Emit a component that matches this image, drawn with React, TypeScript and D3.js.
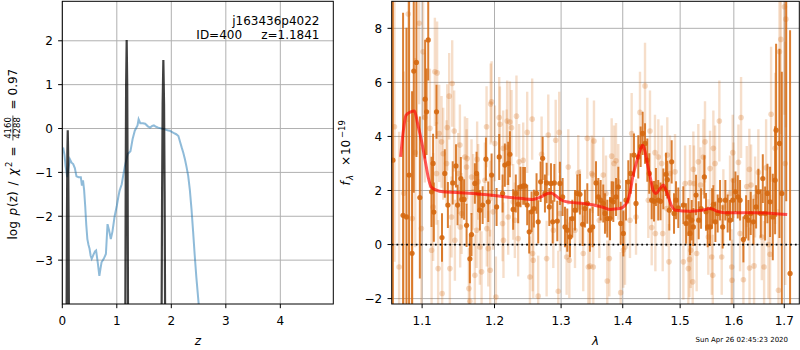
import React, { useEffect, useRef } from 'react'
import * as d3 from 'd3'

// ---- left panel: log p(z) ----
const pzCurve: [number, number][] = [
	[0.0, -0.5], [0.02, -0.47], [0.04, -0.6], [0.06, -0.85], [0.09, -1.11], [0.12, -0.85], [0.14, -0.7],
	[0.17, -0.78], [0.2, -0.81], [0.23, -0.9], [0.26, -1.09], [0.3, -1.11], [0.34, -1.11], [0.36, -1.3],
	[0.38, -1.18], [0.4, -1.4], [0.42, -1.76], [0.44, -2.2], [0.46, -2.52], [0.48, -2.65], [0.5, -2.74],
	[0.52, -2.9], [0.54, -2.97], [0.57, -2.88], [0.6, -2.8], [0.62, -2.78], [0.65, -3.05], [0.68, -3.36],
	[0.7, -3.2], [0.72, -3.05], [0.76, -2.97], [0.8, -2.86], [0.83, -2.18], [0.86, -2.33], [0.89, -2.52],
	[0.92, -2.35], [0.96, -2.0], [1.0, -1.76], [1.03, -1.55], [1.05, -1.42], [1.09, -1.27], [1.12, -1.05],
	[1.15, -0.85], [1.2, -0.58], [1.25, -0.52], [1.29, -0.24], [1.33, -0.05], [1.38, 0.07], [1.4, 0.21],
	[1.43, 0.12], [1.48, 0.12], [1.52, 0.11], [1.57, 0.05], [1.61, 0.02], [1.65, 0.06], [1.68, 0.07],
	[1.72, 0.04], [1.76, 0.02], [1.82, 0.0], [1.88, -0.02], [1.93, -0.04], [1.97, -0.05], [2.04, -0.1],
	[2.09, -0.13], [2.13, -0.17], [2.16, -0.3], [2.19, -0.43], [2.22, -0.55], [2.25, -0.7], [2.28, -0.88],
	[2.31, -1.08], [2.34, -1.4], [2.37, -1.83], [2.4, -2.35], [2.43, -2.9], [2.46, -3.4], [2.5, -3.97],
	[2.53, -4.5]
]
const pzPeakLow: [number, number][] = [
	[0.077, -4.84], [0.085, -2.04], [0.093, -0.54], [0.1, -0.04], [0.107, -0.54], [0.115, -2.04], [0.123, -4.84]
]
const pzPeakMain: [number, number][] = [
	[1.155, -4.78], [1.164, -0.98], [1.171, 1.02], [1.181, 2.02], [1.191, 1.02], [1.198, -0.98], [1.207, -4.78]
]
const pzPeakHigh: [number, number][] = [
	[1.82, -4.84], [1.831, -1.44], [1.841, 0.56], [1.854, 1.56], [1.867, 0.56], [1.877, -1.44], [1.888, -4.84]
]
const zTicks = [0, 1, 2, 3, 4]
const logpTicks = [-3, -2, -1, 0, 1, 2]

// ---- right panel: spectrum [lambda, flux, err] ----
const specRaw: [number, number, number][] = [
	[1.064, 4.36, 5.0], [1.07, -0.83, 5.0], [1.076, 1.9, 4.5], [1.0818, 8.53, 4.0], [1.087, 0.96, 4.0],
	[1.091, 3.4, 3.5], [1.0961, 8.19, 3.0], [1.099, 0.59, 3.0], [1.1013, 7.13, 2.5], [1.1036, 4.7, 2.4],
	[1.1103, 4.3, 2.2], [1.1126, -0.21, 2.2], [1.1147, 1.39, 2.0], [1.117, 6.39, 2.0], [1.1192, 2.63, 1.9],
	[1.12, 6.35, 1.9], [1.1214, -0.89, 1.8], [1.1228, 4.11, 1.8], [1.126, 3.8, 1.7], [1.1268, -1.81, 1.7],
	[1.1282, 3.36, 1.7], [1.1328, 3.0, 1.6], [1.1337, 4.33, 1.6], [1.1364, 5.49, 1.6], [1.1373, -0.89, 1.6],
	[1.1396, 1.02, 1.5], [1.1405, 5.96, 1.6], [1.1432, 4.2, 1.5], [1.1442, 0.16, 1.5], [1.1488, 2.63, 1.5],
	[1.1511, 3.68, 1.5], [1.1515, 0.65, 1.5], [1.1535, 1.15, 1.5], [1.158, 3.24, 1.5], [1.1604, 2.87, 1.4],
	[1.1612, 3.18, 1.5], [1.1636, -1.63, 1.5], [1.165, -2.1, 1.5], [1.1673, 2.5, 1.4], [1.1696, 1.95, 1.4],
	[1.172, -1.14, 1.5], [1.1744, 0.53, 1.4], [1.1752, 3.15, 1.4], [1.1767, 2.32, 1.4], [1.1791, -0.09, 1.4],
	[1.1815, -1.01, 1.5], [1.1862, 2.38, 1.4], [1.1886, 4.36, 1.5], [1.189, 0.59, 1.4], [1.191, -0.15, 1.4],
	[1.1934, 1.7, 1.4], [1.1938, -0.95, 1.5], [1.1945, 5.2, 1.5], [1.1958, 5.28, 1.5], [1.1981, 1.21, 1.4],
	[1.2005, 3.74, 1.4], [1.202, -1.94, 1.5], [1.2068, 4.7, 1.5], [1.2078, 4.45, 1.4], [1.2117, 0.78, 1.4],
	[1.2126, 3.56, 1.4], [1.213, 0.16, 1.4], [1.2176, 3.6, 1.4], [1.2184, 4.57, 1.5], [1.2199, 1.02, 1.4],
	[1.2224, 4.53, 1.5], [1.2248, 4.32, 1.4], [1.2272, 1.58, 1.4], [1.2297, 0.9, 1.4], [1.2321, 4.75, 1.5],
	[1.2346, 0.22, 1.4], [1.2361, 3.06, 1.4], [1.2421, 3.12, 1.4], [1.2481, 4.15, 1.5], [1.2522, -1.2, 1.5],
	[1.2556, 4.64, 1.5], [1.2562, -0.33, 1.4], [1.2572, -0.58, 1.4], [1.2647, -1.91, 1.5], [1.2699, 3.34, 1.4],
	[1.2776, -0.52, 1.4], [1.2801, 4.05, 1.5], [1.2879, 0.53, 1.4], [1.2916, 3.86, 1.5], [1.2956, -1.73, 1.5],
	[1.2971, 4.15, 1.5], [1.2982, 1.15, 1.4], [1.3087, -0.46, 1.4], [1.3113, 2.87, 1.4], [1.3129, -0.58, 1.4],
	[1.3219, 0.53, 1.4], [1.3271, 2.65, 1.4], [1.3298, 1.39, 1.4], [1.3351, -0.33, 1.4], [1.3416, 3.93, 1.5],
	[1.3432, -0.83, 1.4], [1.3459, -0.8, 1.4], [1.3487, 2.63, 1.4], [1.3503, 2.57, 1.4], [1.3513, -0.83, 1.4],
	[1.3524, 3.83, 1.5], [1.3611, 0.9, 1.4], [1.3676, 2.57, 1.4], [1.3721, 1.89, 1.4], [1.3742, -1.35, 1.5],
	[1.3776, -0.52, 1.4], [1.3815, 3.27, 1.4], [1.3854, 3.0, 1.4], [1.3887, 3.1, 1.4], [1.3926, 2.32, 1.4],
	[1.3966, -1.78, 1.5], [1.401, -0.2, 1.4], [1.4038, -0.09, 1.4], [1.4122, 0.9, 1.4], [1.4151, 4.11, 1.5],
	[1.4225, 1.02, 1.4], [1.4293, 4.89, 1.5], [1.438, 5.87, 1.6], [1.4437, 1.64, 1.4], [1.4466, 4.2, 1.5],
	[1.4496, 0.63, 1.4], [1.4553, 3.4, 1.4], [1.456, 0.41, 1.4], [1.4612, 3.24, 1.4], [1.4671, 3.0, 1.4],
	[1.4689, 0.41, 1.4], [1.4759, 1.33, 1.4], [1.477, 3.31, 1.4], [1.48, -0.64, 1.4], [1.4818, 2.63, 1.4],
	[1.4908, 2.69, 1.4], [1.5058, -0.64, 1.4], [1.5089, 2.26, 1.4], [1.5149, -0.89, 1.4], [1.517, -0.55, 1.4],
	[1.5179, 2.28, 1.4], [1.5192, -0.21, 1.4], [1.5228, -1.38, 1.5], [1.524, 2.78, 1.4], [1.5252, 2.26, 1.4],
	[1.5301, -0.33, 1.4], [1.5332, 3.06, 1.4], [1.5372, 2.2, 1.4], [1.5424, 3.24, 1.4], [1.5455, 3.8, 1.5],
	[1.5517, 0.28, 1.4], [1.5549, 2.81, 1.4], [1.5581, -0.46, 1.4], [1.56, -1.14, 1.5], [1.5611, 3.56, 1.4],
	[1.5643, 3.0, 1.4], [1.5724, 4.57, 1.5], [1.5769, -0.46, 1.4], [1.58, 1.39, 1.4], [1.5927, 1.89, 1.4],
	[1.596, -0.83, 1.4], [1.5965, -1.32, 1.5], [1.5979, 3.4, 1.4], [1.5992, 2.38, 1.4], [1.6089, 3.04, 1.4],
	[1.612, 0.41, 1.4], [1.614, 4.7, 1.5], [1.6185, -1.3, 1.5], [1.6251, 2.15, 1.5], [1.6302, 2.78, 1.5],
	[1.6305, -0.87, 1.5], [1.6335, 2.2, 1.5], [1.6394, -0.79, 1.5], [1.6414, 1.76, 1.5], [1.6479, 2.67, 1.6],
	[1.6547, 0.28, 1.6], [1.6593, -0.83, 1.7], [1.6633, 2.84, 1.8], [1.6679, 0.0, 2.0], [1.6712, -0.36, 2.2],
	[1.6733, 4.82, 2.5], [1.6814, 3.56, 2.8], [1.6882, -1.69, 3.0], [1.6902, 7.13, 3.5], [1.693, 7.59, 3.5],
	[1.7004, 8.8, 4.0], [1.7019, 3.0, 4.5], [1.7033, 8.34, 4.0]
]

const specBinned: [number, number, number][] = [
	[1.062, 3.12, 8.0], [1.0751, 1.08, 7.5], [1.0795, 1.02, 7.0], [1.0829, 2.57, 6.5], [1.0868, -0.33, 6.0],
	[1.089, 6.42, 4.5], [1.0925, 6.74, 3.5], [1.097, 1.74, 3.0], [1.104, 5.38, 2.2], [1.1059, 4.91, 1.6],
	[1.1081, 7.57, 1.5], [1.1125, 1.95, 1.3], [1.1146, 3.0, 1.1], [1.1156, 1.2, 1.1], [1.1192, 4.91, 1.0],
	[1.1266, 0.26, 0.9], [1.1304, 2.63, 0.9], [1.1346, 1.46, 0.85], [1.1412, 2.28, 0.8], [1.1457, 2.91, 0.8],
	[1.1479, 1.46, 0.75], [1.1524, 2.44, 0.8], [1.1538, 1.67, 0.7], [1.1569, 1.67, 0.75], [1.1604, 0.71, 0.8],
	[1.165, -0.53, 0.9], [1.1673, 0.37, 0.8], [1.172, 2.26, 0.75], [1.1744, 2.63, 0.8], [1.1767, 1.9, 0.7],
	[1.1791, 1.27, 0.75], [1.183, 1.46, 0.7], [1.1877, 3.16, 0.8], [1.191, 1.58, 0.75], [1.1958, 2.57, 0.8],
	[1.203, 1.39, 0.7], [1.2068, 3.24, 0.85], [1.2117, 1.89, 0.7], [1.215, 2.94, 0.8], [1.2199, 3.0, 0.8],
	[1.2224, 3.34, 0.85], [1.2272, 1.3, 0.75], [1.2311, 1.89, 0.7], [1.2346, 1.49, 0.7], [1.2381, 2.13, 0.75],
	[1.2421, 2.17, 0.7], [1.2447, 2.17, 0.7], [1.2481, 1.46, 0.75], [1.2511, 0.47, 0.8], [1.2547, 1.21, 0.75],
	[1.2582, 1.33, 0.7], [1.2622, 1.89, 0.75], [1.2647, 0.84, 0.8], [1.2684, 2.32, 0.75], [1.2715, 3.19, 0.8],
	[1.275, 1.89, 0.7], [1.2776, 2.28, 0.75], [1.2817, 1.39, 0.7], [1.2843, 2.26, 0.75], [1.2869, 0.84, 0.8],
	[1.2895, 2.28, 0.7], [1.2941, 0.87, 0.75], [1.2982, 2.26, 0.8], [1.3024, 1.76, 0.7], [1.3061, 0.65, 0.75],
	[1.3097, 0.53, 0.8], [1.3139, 0.28, 0.75], [1.3176, 0.96, 0.7], [1.3219, 1.27, 0.75], [1.3256, 1.89, 0.7],
	[1.3298, 1.86, 0.75], [1.3341, 0.75, 0.8], [1.3378, 1.33, 0.7], [1.3416, 1.52, 0.75], [1.3459, 0.53, 0.8],
	[1.3503, 0.65, 0.75], [1.3557, 2.28, 0.8], [1.3595, 1.76, 0.7], [1.3633, 1.64, 0.75], [1.3676, 1.52, 0.7],
	[1.3704, 1.15, 0.75], [1.3742, 0.96, 0.7], [1.3787, 0.96, 0.8], [1.3815, 1.64, 0.7], [1.3842, 1.58, 0.75],
	[1.3887, 1.76, 0.7], [1.3926, 2.13, 0.75], [1.3966, 0.78, 0.8], [1.401, 0.41, 0.85], [1.4055, 1.64, 0.75],
	[1.4094, 2.32, 0.8], [1.4134, 2.63, 0.75], [1.419, 3.31, 0.8], [1.4225, 1.52, 0.75], [1.4264, 3.24, 0.8],
	[1.4305, 3.62, 0.75], [1.4339, 4.11, 0.8], [1.438, 3.74, 0.75], [1.442, 3.12, 0.8], [1.4454, 2.63, 0.75],
	[1.4496, 1.64, 0.7], [1.4536, 1.6, 0.75], [1.457, 2.13, 0.7], [1.461, 1.64, 0.75], [1.4651, 1.6, 0.7],
	[1.47, 2.06, 0.75], [1.4747, 2.6, 0.8], [1.477, 2.4, 0.7], [1.4806, 1.27, 0.75], [1.4848, 3.06, 0.8],
	[1.489, 1.15, 0.75], [1.4926, 1.64, 0.7], [1.4967, 1.36, 0.75], [1.5058, 1.46, 0.7], [1.5107, 0.78, 0.75],
	[1.5149, 1.02, 0.7], [1.5179, 0.41, 0.8], [1.521, 0.9, 0.75], [1.524, 0.65, 0.7], [1.5289, 1.83, 0.75],
	[1.5338, 0.9, 0.7], [1.5382, 1.33, 0.75], [1.5443, 2.5, 0.8], [1.5474, 1.21, 0.7], [1.5505, 0.65, 0.75],
	[1.5549, 0.65, 0.7], [1.5587, 1.33, 0.75], [1.5611, 1.49, 0.7], [1.5649, 0.84, 0.75], [1.5692, 1.15, 0.7],
	[1.5737, 1.64, 0.75], [1.5787, 0.65, 0.8], [1.5838, 1.64, 0.75], [1.5882, 1.15, 0.7], [1.5927, 0.9, 0.75],
	[1.5979, 1.64, 0.8], [1.6031, 1.95, 0.75], [1.6076, 1.76, 0.8], [1.612, 1.64, 0.75], [1.6185, 0.19, 0.85],
	[1.6237, 1.02, 0.8], [1.6283, 0.9, 0.75], [1.6328, 1.15, 0.8], [1.6381, 0.84, 0.85], [1.6434, 1.39, 0.8],
	[1.6479, 1.95, 0.85], [1.6527, 1.15, 0.9], [1.6567, 2.44, 0.9], [1.6613, 1.15, 1.0], [1.6659, 1.89, 1.1],
	[1.6712, 1.58, 1.3], [1.6767, 1.02, 1.6], [1.6814, 2.38, 2.0], [1.6834, 4.23, 3.2], [1.6902, 3.74, 3.5],
	[1.695, 1.89, 4.5], [1.704, 9.6, 8.0], [1.7119, -1.07, 9.0]
]

const modelFlux: [number, number][] = [
	[1.072, 3.24], [1.075, 4.11], [1.079, 4.79], [1.085, 4.91], [1.09, 4.94], [1.094, 4.48], [1.099, 3.86],
	[1.104, 3.12], [1.108, 2.5], [1.112, 2.13], [1.119, 2.01], [1.128, 1.95], [1.146, 1.93], [1.169, 1.89],
	[1.193, 1.83], [1.217, 1.76], [1.241, 1.7], [1.256, 1.67], [1.269, 1.76], [1.279, 1.89], [1.285, 1.91],
	[1.29, 1.83], [1.301, 1.64], [1.314, 1.56], [1.336, 1.52], [1.352, 1.46], [1.368, 1.37], [1.379, 1.3],
	[1.395, 1.33], [1.406, 1.52], [1.412, 1.89], [1.417, 2.5], [1.424, 3.1], [1.429, 3.45], [1.434, 3.67],
	[1.438, 3.45], [1.442, 3.0], [1.447, 2.5], [1.452, 2.01], [1.457, 1.89], [1.464, 2.07], [1.47, 2.2],
	[1.476, 1.95], [1.484, 1.46], [1.492, 1.27], [1.517, 1.23], [1.54, 1.27], [1.556, 1.33], [1.567, 1.24],
	[1.582, 1.18], [1.643, 1.18], [1.677, 1.15], [1.706, 1.11]
]
const lamTicks = [1.1, 1.2, 1.3, 1.4, 1.5, 1.6, 1.7]
const fluxTicks = [-2, 0, 2, 4, 6, 8]

const objName = 'j163436p4022'
const objInfo = 'ID=400\u00a0\u00a0\u00a0\u00a0\u00a0z=1.1841'
const stamp = 'Sun Apr 26 02:45:23 2020'

const font = 'DejaVu Sans'
const minus = (d: number) => (d < 0 ? '\u2212' + Math.abs(d) : String(d))

function drawGrid(svg, x, y, xTicks, yTicks) {
	const [l, r] = x.range()
	const [b, t] = y.range()
	const g = svg.append('g').attr('stroke', '#b0b0b0').attr('stroke-width', 1)
	g.selectAll('line.gx')
		.data(xTicks)
		.join('line')
		.attr('class', 'gx')
		.attr('x1', d => x(d))
		.attr('x2', d => x(d))
		.attr('y1', t)
		.attr('y2', b)
	g.selectAll('line.gy')
		.data(yTicks)
		.join('line')
		.attr('class', 'gy')
		.attr('x1', l)
		.attr('x2', r)
		.attr('y1', d => y(d))
		.attr('y2', d => y(d))
}

function drawFrame(svg, x, y, xTicks, yTicks) {
	const [l, r] = x.range()
	const [b, t] = y.range()
	const g = svg.append('g')
	g.append('rect')
		.attr('x', l)
		.attr('y', t)
		.attr('width', r - l)
		.attr('height', b - t)
		.attr('fill', 'none')
		.attr('stroke', '#000')
		.attr('stroke-width', 1)
	g.selectAll('line.tx')
		.data(xTicks)
		.join('line')
		.attr('class', 'tx')
		.attr('x1', d => x(d))
		.attr('x2', d => x(d))
		.attr('y1', b)
		.attr('y2', b + 4.2)
		.attr('stroke', '#000')
	g.selectAll('line.ty')
		.data(yTicks)
		.join('line')
		.attr('class', 'ty')
		.attr('x1', l - 4.2)
		.attr('x2', l)
		.attr('y1', d => y(d))
		.attr('y2', d => y(d))
		.attr('stroke', '#000')
	g.selectAll('text.lx')
		.data(xTicks)
		.join('text')
		.attr('class', 'lx')
		.attr('x', d => x(d))
		.attr('y', b + 20.5)
		.attr('text-anchor', 'middle')
		.attr('font-size', 12)
		.text(d => minus(d))
	g.selectAll('text.ly')
		.data(yTicks)
		.join('text')
		.attr('class', 'ly')
		.attr('x', l - 9.5)
		.attr('y', d => y(d) + 4.4)
		.attr('text-anchor', 'end')
		.attr('font-size', 12)
		.text(d => minus(d))
}

const App = () => {
	const ref = useRef<SVGSVGElement>(null)

	useEffect(() => {
		if (!ref.current) return
		document.body.style.margin = '0'
		const svg = d3.select(ref.current)
		svg.selectAll('*').remove()
		svg.attr('font-family', font)
		const defs = svg.append('defs')

		// ===== left panel =====
		const xz = d3.scaleLinear().domain([0, 4.972]).range([62.3, 333.3])
		const yp = d3.scaleLinear().domain([-4, 2.9]).range([304, 1.3])
		defs.append('clipPath').attr('id', 'clip-pz').append('rect')
			.attr('x', 62.3).attr('y', 1.3).attr('width', 271).attr('height', 302.7)
		drawGrid(svg, xz, yp, zTicks, logpTicks)

		const pzLine = d3.line<[number, number]>().x(d => xz(d[0])).y(d => yp(d[1]))
		const pz = svg.append('g').attr('clip-path', 'url(#clip-pz)')
		pz.append('path')
			.attr('d', pzLine(pzCurve))
			.attr('fill', 'none')
			.attr('stroke', '#1f77b4')
			.attr('stroke-opacity', 0.5)
			.attr('stroke-width', 2)
		pz.selectAll('path.peak')
			.data([pzPeakLow, pzPeakMain, pzPeakHigh])
			.join('path')
			.attr('class', 'peak')
			.attr('d', d => pzLine(d))
			.attr('fill', 'none')
			.attr('stroke', '#000')
			.attr('stroke-opacity', 0.75)
			.attr('stroke-width', 2.2)
		drawFrame(svg, xz, yp, zTicks, logpTicks)

		svg.append('text')
			.attr('x', 319.5).attr('y', 24.5)
			.attr('text-anchor', 'end').attr('font-size', 12)
			.text(objName)
		svg.append('text')
			.attr('x', 319.5).attr('y', 38.5)
			.attr('text-anchor', 'end').attr('font-size', 12)
			.text(objInfo)

		svg.append('text')
			.attr('x', 197.8).attr('y', 344.5)
			.attr('text-anchor', 'middle').attr('font-size', 12)
			.attr('font-style', 'italic')
			.text('z')

		// y label: log p(z) / chi^2 = 4160/4288 = 0.97
		const yl = svg.append('g').attr('transform', 'translate(16.5,239.5) rotate(-90)')
		const put = (u: number, v: number, s: string, size = 12, italic = false, anchor = 'start') =>
			yl.append('text')
				.attr('x', u).attr('y', v)
				.attr('font-size', size)
				.attr('font-style', italic ? 'italic' : 'normal')
				.attr('text-anchor', anchor)
				.text(s)
		put(0, 0, 'log')
		put(24, 0, 'p', 12, true)
		put(32.5, 0, '(z)')
		put(54, 0, '/')
		put(64, 0, '\u03c7', 12, true)
		put(72.5, -5, '2', 8.5)
		put(83, 0, '=')
		put(111.5, -5.5, '4160', 8.5, false, 'middle')
		put(111.5, 3.8, '4288', 8.5, false, 'middle')
		yl.append('line')
			.attr('x1', 99).attr('x2', 124)
			.attr('y1', -3.6).attr('y2', -3.6)
			.attr('stroke', '#000').attr('stroke-width', 0.7)
		put(130, 0, '=')
		put(144, 0, '0.97')

		// ===== right panel =====
		const xl = d3.scaleLog().domain([1.0605, 1.731]).range([391.7, 799.3])
		const yf = d3.scaleLinear().domain([-2.2, 9]).range([304, 1.3])
		defs.append('clipPath').attr('id', 'clip-spec').append('rect')
			.attr('x', 391.7).attr('y', 1.3).attr('width', 407.6).attr('height', 302.7)
		drawGrid(svg, xl, yf, lamTicks, fluxTicks)

		const spec = svg.append('g').attr('clip-path', 'url(#clip-spec)')
		const orange = '#d5680f'

		const raw = spec.append('g').attr('fill', orange).attr('stroke', orange)
		raw.selectAll('line')
			.data(specRaw)
			.join('line')
			.attr('x1', d => xl(d[0]))
			.attr('x2', d => xl(d[0]))
			.attr('y1', d => yf(d[1] - d[2]))
			.attr('y2', d => yf(d[1] + d[2]))
			.attr('stroke-width', 2.4)
			.attr('stroke-opacity', 0.22)
		raw.selectAll('circle')
			.data(specRaw)
			.join('circle')
			.attr('cx', d => xl(d[0]))
			.attr('cy', d => yf(d[1]))
			.attr('r', 2.8)
			.attr('stroke', 'none')
			.attr('fill-opacity', 0.25)

		const bin = spec.append('g').attr('fill', orange).attr('stroke', orange)
		bin.selectAll('line')
			.data(specBinned)
			.join('line')
			.attr('x1', d => xl(d[0]))
			.attr('x2', d => xl(d[0]))
			.attr('y1', d => yf(d[1] - d[2]))
			.attr('y2', d => yf(d[1] + d[2]))
			.attr('stroke-width', 2)
			.attr('stroke-opacity', 0.85)
		bin.selectAll('circle')
			.data(specBinned)
			.join('circle')
			.attr('cx', d => xl(d[0]))
			.attr('cy', d => yf(d[1]))
			.attr('r', 2.6)
			.attr('stroke', 'none')
			.attr('fill-opacity', 0.9)

		spec.append('line')
			.attr('x1', 391.7).attr('x2', 799.3)
			.attr('y1', yf(0)).attr('y2', yf(0))
			.attr('stroke', '#000')
			.attr('stroke-width', 1.8)
			.attr('stroke-dasharray', '1.8,3')

		const model = d3.line<[number, number]>()
			.x(d => xl(d[0]))
			.y(d => yf(d[1]))
			.curve(d3.curveMonotoneX)
		spec.append('path')
			.attr('d', model(modelFlux))
			.attr('fill', 'none')
			.attr('stroke', '#ff0000')
			.attr('stroke-opacity', 0.65)
			.attr('stroke-width', 3)
			.attr('stroke-linejoin', 'round')

		drawFrame(svg, xl, yf, lamTicks, fluxTicks)

		svg.append('text')
			.attr('x', 595.5).attr('y', 344.5)
			.attr('text-anchor', 'middle').attr('font-size', 12)
			.attr('font-style', 'italic')
			.text('\u03bb')

		// y label: f_lambda x 10^-19
		const yr = svg.append('g').attr('transform', 'translate(350,152.6) rotate(-90)')
		const putR = (u: number, v: number, s: string, size = 12, italic = false) =>
			yr.append('text')
				.attr('x', u).attr('y', v)
				.attr('font-size', size)
				.attr('font-style', italic ? 'italic' : 'normal')
				.text(s)
		putR(-33, 0, 'f', 12, true)
		putR(-27.5, 2.8, '\u03bb', 8.5, true)
		putR(-13.5, 0, '\u00d7')
		putR(-2.5, 0, '10')
		putR(14.5, -5, '\u221219', 8.5)

		svg.append('text')
			.attr('x', 788).attr('y', 341.5)
			.attr('text-anchor', 'end').attr('font-size', 7)
			.text(stamp)
	}, [])

	return <svg ref={ref} width={800} height={350} style={{ display: 'block' }} />
}

export default App
